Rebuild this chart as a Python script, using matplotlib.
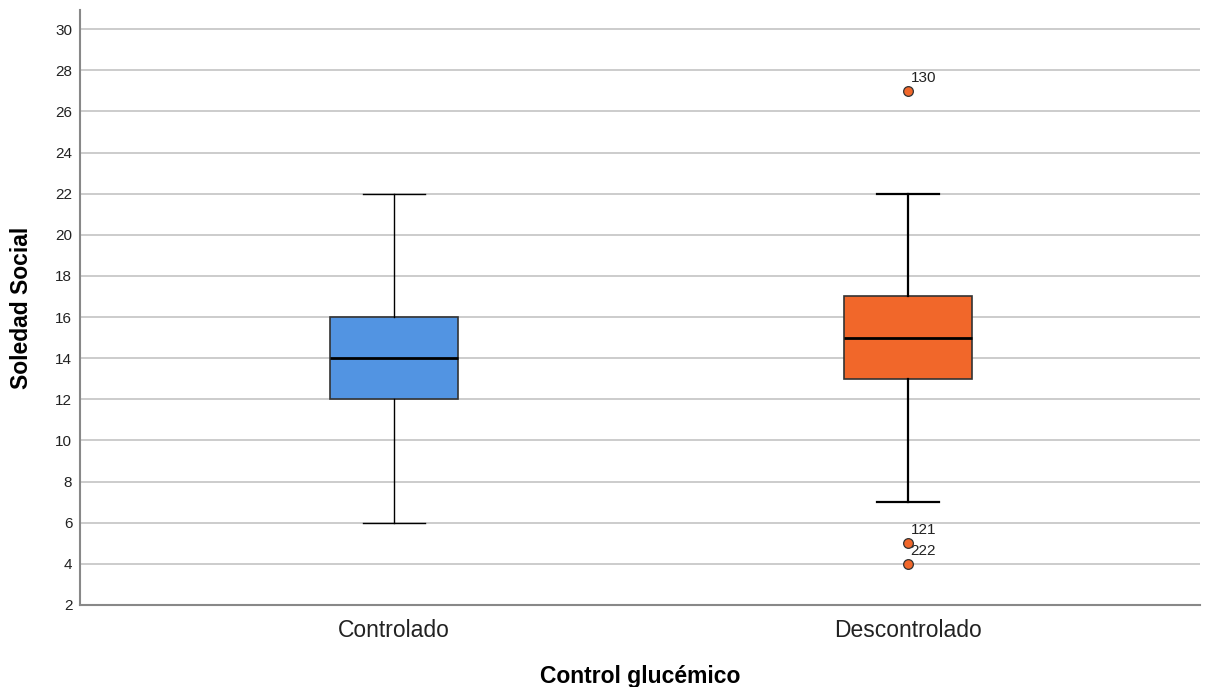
import matplotlib
matplotlib.use("Agg")
import matplotlib.pyplot as plt

plt.rcParams['font.family'] = ['Liberation Sans', 'DejaVu Sans']

categories = ["Controlado", "Descontrolado"]
whislo = [6, 7]
q1 = [12, 13]
med = [14, 15]
q3 = [16, 17]
whishi = [22, 22]
fliers = [[], [27, 5, 4]]
flier_ids = [[], ["130", "121", "222"]]
colors = ["#5294E2", "#F1672A"]
yticks = list(range(2, 31, 2))

fig = plt.figure(figsize=(12.12, 6.87), dpi=100)
ax = fig.add_axes([0.066, 0.1194, 0.924, 0.866])

ax.set_ylim(2, 30.93)
ax.set_xlim(1 - 0.611, 2 + 0.568)
ax.set_yticks(yticks)
ax.yaxis.grid(True, color="#C8C8C8", linewidth=1.3, zorder=0)
ax.set_axisbelow(True)

for i, cat in enumerate(categories):
    stats = [dict(med=med[i], q1=q1[i], q3=q3[i], whislo=whislo[i], whishi=whishi[i],
                  fliers=fliers[i], label=cat)]
    lw = 1.0 if i == 0 else 1.6
    ax.bxp(stats, positions=[i + 1], widths=0.249, patch_artist=True, manage_ticks=False,
           boxprops=dict(facecolor=colors[i], edgecolor="#333333", linewidth=1.2),
           medianprops=dict(color="black", linewidth=2.0),
           whiskerprops=dict(color="black", linewidth=lw),
           capprops=dict(color="black", linewidth=lw),
           capwidths=0.12,
           flierprops=dict(marker="o", markerfacecolor=colors[i], markeredgecolor="#333333",
                           markersize=7, markeredgewidth=0.9, linestyle="none"))
    for v, lab in zip(fliers[i], flier_ids[i]):
        ax.annotate(lab, xy=(i + 1, v), xytext=(2, 4.5), textcoords="offset points",
                    fontsize=11, color="#222222", ha="left", va="bottom")

ax.set_xticks([1, 2])
ax.set_xticklabels(categories, fontsize=16.5, color="#222222")
ax.tick_params(axis="y", length=0, labelsize=11, colors="#222222", pad=5.5)
ax.tick_params(axis="x", length=0, pad=10)

for s in ["top", "right"]:
    ax.spines[s].set_visible(False)
for s in ["left", "bottom"]:
    ax.spines[s].set_color("#888888")
    ax.spines[s].set_linewidth(1.5)

ax.set_ylabel("Soledad Social", fontsize=16.5, fontweight="bold", labelpad=16)
ax.set_xlabel("Control glucémico", fontsize=16.5, fontweight="bold", labelpad=17)

fig.savefig("out.png", dpi=100)
